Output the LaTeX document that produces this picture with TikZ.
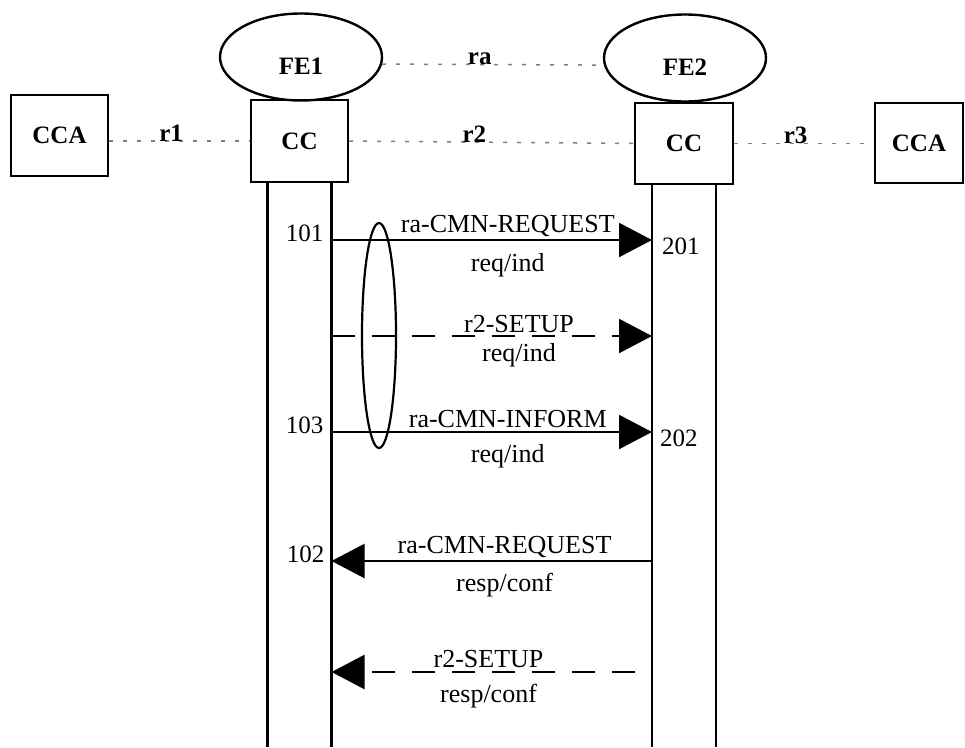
\documentclass[tikz,border=0pt]{standalone}
\usepackage{fontspec}
\setmainfont{Liberation Serif}
\usetikzlibrary{shapes.geometric,arrows.meta,positioning}

\tikzset{
  box/.style={draw, line width=2.4pt, minimum width=97pt, minimum height=81pt, inner sep=0pt, font=\fontsize{25}{30}\selectfont\bfseries},
  fe/.style={draw, ellipse, line width=2.4pt, minimum width=162pt, minimum height=87pt, inner sep=0pt, text height=35pt, text depth=0pt, font=\fontsize{25}{30}\selectfont\bfseries},
  ref/.style={draw=gray, line width=1.5pt, dash pattern=on 4pt off 10pt},
  reflabel/.style={pos=0.44, above=-1pt, text=black, inner sep=0pt, font=\fontsize{25}{30}\selectfont\bfseries},
  life/.style={line width=2.2pt},
  msg/.style={line width=2.2pt, -{Triangle[length=33pt,width=34pt]}},
  rdash/.style={dash pattern=on 23pt off 17pt},
  mtext/.style={inner sep=2pt, font=\fontsize{26}{30}\selectfont},
  num/.style={inner sep=0pt, font=\fontsize{25}{30}\selectfont}
}

\begin{document}
\begin{tikzpicture}[x=1pt,y=-1pt]
    \useasboundingbox (0,0) rectangle (965,747);
    % functional entities
    \node[fe] (FE1) at (301,57) {FE1};
    \node[fe] (FE2) at (685,58) {FE2};
    \node[box] (CCA1) at (59.5,135.5) {CCA};
    \node[box, minimum height=82pt] (CC1) at (299.5,141) {CC};
    \node[box, minimum width=98pt] (CC2) at (684,143.5) {CC};
    \node[box, minimum width=88pt, minimum height=80pt] (CCA2) at (919,143) {CCA};
    % relationships
    \draw[ref] (FE1.-5) -- node[reflabel] {ra} (FE2.185);
    \draw[ref] (CC1.west -| CCA1.east) -- node[reflabel] {r1} (CC1.west);
    \draw[ref] (CC1.east) -- node[reflabel] {r2} (CC2.west);
    \draw[ref] (CC2.east) -- node[reflabel] {r3} (CC2.east -| CCA2.west);
    % lifelines
    \foreach \n in {CC1,CC2}{
        \draw[life] ([xshift=-32pt]\n.south) -- ([xshift=-32pt]\n.south |- 0,747);
        \draw[life] ([xshift=32pt]\n.south) -- ([xshift=32pt]\n.south |- 0,747);
    }
    \coordinate (A) at ([xshift=32pt]CC1.south);
    \coordinate (B) at ([xshift=-32pt]CC2.south);
    \foreach \y [count=\i] in {240,336,432,561,672}{
        \coordinate (p\i) at (A |- 0,\y);
        \coordinate (q\i) at (B |- 0,\y);
    }
    % flows
    \draw[msg] (p1) -- node[mtext, pos=0.55, above] {ra-CMN-REQUEST} node[mtext, pos=0.55, below=10pt] {req/ind} (q1);
    \draw[msg, rdash] (p2) -- node[mtext, pos=0.585, above] {r2-SETUP} node[mtext, pos=0.585, below=4pt] {req/ind} (q2);
    \draw[msg] (p3) -- node[mtext, pos=0.55, above=1pt] {ra-CMN-INFORM} node[mtext, pos=0.55, below=9pt] {req/ind} (q3);
    \draw[msg] (q4) -- node[mtext, pos=0.46, above] {ra-CMN-REQUEST} node[mtext, pos=0.46, below=9pt] {resp/conf} (p4);
    \draw[msg, rdash, dash phase=23pt] (q5) -- node[mtext, pos=0.51, above=1pt] {r2-SETUP} node[mtext, pos=0.51, below=9pt] {resp/conf} (p5);
    \node[draw, ellipse, line width=2.2pt, minimum width=34pt, minimum height=225pt, inner sep=0pt] (grp) at (379,335.5) {};
    % flow numbers
    \node[num, anchor=base east] (n101) at ([xshift=-8pt, yshift=-1pt]p1) {101};
    \node[num, anchor=base east] (n103) at ([xshift=-8pt, yshift=-1pt]p3) {103};
    \node[num, anchor=base east] (n102) at ([xshift=-7pt, yshift=-1pt]p4) {102};
    \node[num, anchor=north west] (n201) at ([xshift=10pt, yshift=2pt]q1) {201};
    \node[num, anchor=north west] (n202) at ([xshift=8pt, yshift=2pt]q3) {202};
\end{tikzpicture}
\end{document}
